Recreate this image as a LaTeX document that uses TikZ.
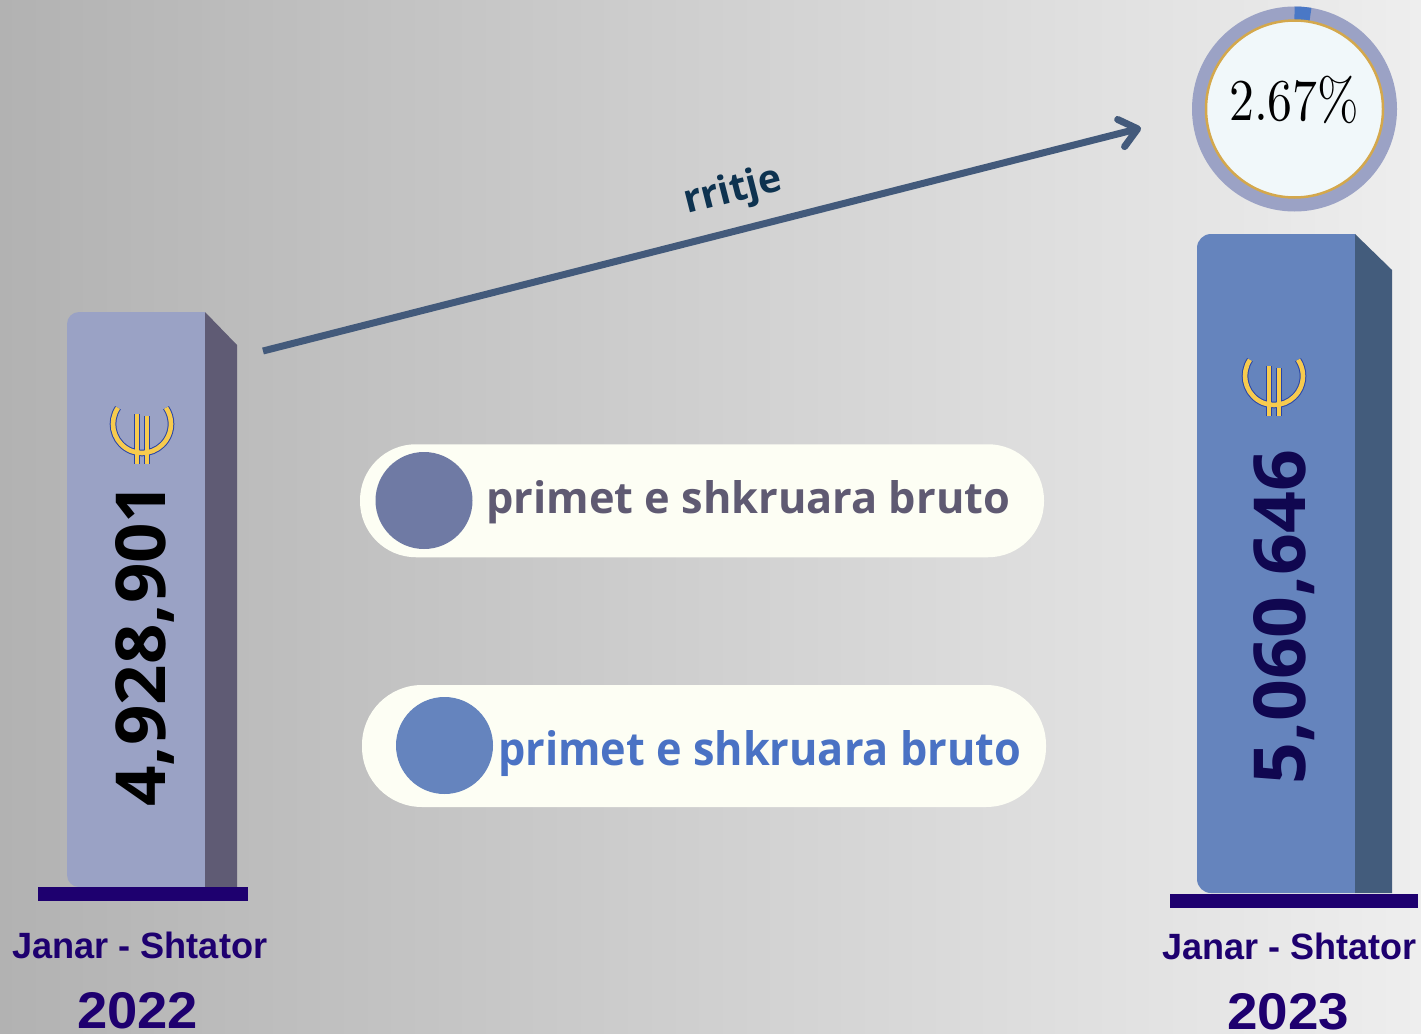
\documentclass[tikz,border=0pt]{standalone}
\usepackage{fontspec}
\usetikzlibrary{arrows.meta}
\newfontfamily\labfont{Liberation Sans}
\newfontfamily\numfont{Open Sans}
\newfontfamily\pillfont{Open Sans}
\definecolor{bgL}{HTML}{B2B2B2}
\definecolor{bgR}{HTML}{EEEEEE}
\definecolor{frontL}{HTML}{9AA2C5}
\definecolor{sideL}{HTML}{5F5B74}
\definecolor{frontR}{HTML}{6584BD}
\definecolor{sideR}{HTML}{435C7C}
\definecolor{indigo}{HTML}{1E006F}
\definecolor{navy}{HTML}{100750}
\definecolor{arrowc}{HTML}{435A7B}
\definecolor{rritjec}{HTML}{0E3350}
\definecolor{pillbg}{HTML}{FDFEF4}
\definecolor{dot1}{HTML}{6F7AA4}
\definecolor{dot2}{HTML}{6584BE}
\definecolor{txt1}{HTML}{5F5A72}
\definecolor{txt2}{HTML}{4A72C4}
\definecolor{ringc}{HTML}{9BA2C5}
\definecolor{ringblue}{HTML}{4A78C6}
\definecolor{diskc}{HTML}{F1F8FA}
\definecolor{goldc}{HTML}{D4A84C}
\definecolor{euroY}{HTML}{F7CB4E}
\definecolor{euroB}{HTML}{2744A8}
\tikzset{
  pill/.style={rectangle, fill=pillbg, inner sep=0pt, minimum width=684pt},
  dotc/.style={circle, inner sep=0pt, minimum size=97pt},
  txt/.style={inner sep=0pt, anchor=base west},
  baseln/.style={fill=indigo},
  eurosign/.pic={
    \foreach \w/\c in {6.6pt/euroB, 4.6pt/euroY}{
      \draw[line width=\w, \c] (146:29pt) arc[start angle=146, end angle=394, radius=29pt];
      \draw[line width=\w, \c] (-5,-10) -- (-5,40);
      \draw[line width=\w, \c] (5,-8) -- (5,40);
    }
  }
}
\begin{document}
\begin{tikzpicture}[x=1pt,y=-1pt]
\useasboundingbox (0,0) rectangle (1421,1033);
\shade[left color=bgL, right color=bgR] (0,0) rectangle (1421,1033);

% left bar
\fill[frontL] (205,312) -- (205,887) -- (79,887)
  arc[start angle=270, end angle=180, radius=12pt] -- (67,324)
  arc[start angle=180, end angle=90, radius=12pt] -- cycle;
\fill[sideL] (205,312) -- (237,345) -- (237,887) -- (205,887) -- cycle;
\fill[baseln] (38,887) rectangle (248,901);

% right bar
\fill[frontR] (1355,234) -- (1355,893) -- (1211,893)
  arc[start angle=270, end angle=180, radius=14pt] -- (1197,248)
  arc[start angle=180, end angle=90, radius=14pt] -- cycle;
\fill[sideR] (1355,234) -- (1392,270) -- (1392,893) -- (1355,893) -- cycle;
\fill[baseln] (1170,894) rectangle (1418,908);

% euro signs
\pic at (142,424) {eurosign};
\pic at (1274,376) {eurosign};

% bar numbers
\node[txt, rotate=90, text=black, font=\numfont\bfseries] (n1) at (165,807)
  {\resizebox{324pt}{50pt}{4,928,901}};
\node[txt, rotate=90, text=navy, font=\numfont\bfseries] (n2) at (1305,785)
  {\resizebox{335pt}{52pt}{5,060,646}};

% labels under bars
\node[txt, text=indigo, font=\labfont\bfseries] (l1) at (12,958)
  {\resizebox{255pt}{26.5pt}{Janar - Shtator}};
\node[txt, text=indigo, font=\labfont\bfseries] (y1) at (77,1028)
  {\resizebox{121pt}{36pt}{2022}};
\node[txt, text=indigo, font=\labfont\bfseries] (l2) at (1162.5,959)
  {\resizebox{254pt}{26.5pt}{Janar - Shtator}};
\node[txt, text=indigo, font=\labfont\bfseries] (y2) at (1227,1029)
  {\resizebox{122pt}{36pt}{2023}};

% percentage ring
\coordinate (pc) at (1294.5,109);
\draw[ringc, line width=14pt] (pc) circle[radius=95.5pt];
\draw[ringblue, line width=14pt] (pc) ++(90:95.5pt) arc[start angle=90, end angle=80.4, radius=95.5pt];
\node[circle, fill=diskc, draw=goldc, line width=2.5pt, minimum size=177pt, inner sep=0pt] (disk) at (pc) {};
\node[txt, text=black] (pct) at (1229,120) {\resizebox{130pt}{40pt}{2.67\smash{\%}}};

% arrow
\coordinate (astart) at (263,351);
\coordinate (aend) at (1141,128);
\draw[arrowc, line width=7pt, -{Straight Barb[length=17pt, width=28pt, round]}] (astart) -- (aend);
\node[txt, rotate=14.25, text=rritjec, font=\numfont\bfseries] (rr) at (687,214)
  {\resizebox{100pt}{!}{rritje}};

% pills
\node[pill, rounded corners=56pt, minimum height=113pt] (p1) at (702,500.75) {};
\node[dotc, fill=dot1] (d1) at (424,500.5) {};
\node[txt, text=txt1, font=\pillfont\bfseries] (t1) at (486,513)
  {\resizebox{524pt}{33pt}{primet e shkruara bruto}};
\node[pill, rounded corners=60pt, minimum height=122pt] (p2) at (704,746) {};
\node[dotc, fill=dot2] (d2) at (444.5,745.5) {};
\node[txt, text=txt2, font=\pillfont\bfseries] (t2) at (498,765)
  {\resizebox{523pt}{35pt}{primet e shkruara bruto}};
\end{tikzpicture}
\end{document}
